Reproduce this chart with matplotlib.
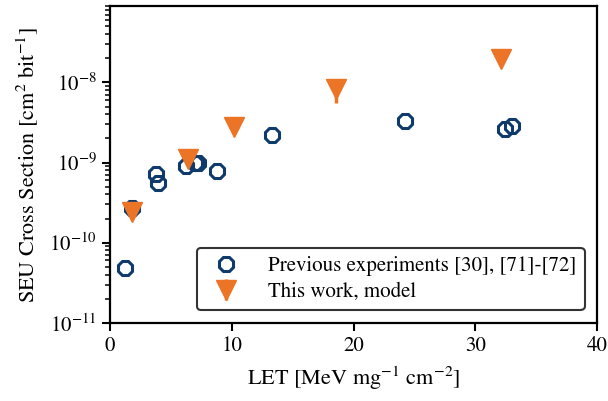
import numpy as np
import matplotlib
matplotlib.use("Agg")
import matplotlib.pyplot as plt
from matplotlib.ticker import NullFormatter

plt.rcParams['font.family'] = 'STIXGeneral'
plt.rcParams['mathtext.fontset'] = 'stix'

# previous experiments (LET, cross section)
prev_let = [1.26, 1.84, 3.76, 3.9, 6.25, 7.0, 7.19, 8.78, 13.33, 24.2, 32.43, 33.0]
prev_xs = [4.8e-11, 2.7e-10, 7.1e-10, 5.5e-10, 9.0e-10, 9.9e-10, 1.0e-9, 7.8e-10,
           2.24e-9, 3.35e-9, 2.64e-9, 2.84e-9]

# model results
model_let = [1.78, 6.39, 10.15, 18.57, 32.1]
model_xs = [2.4e-10, 1.1e-9, 2.8e-9, 8.4e-9, 1.97e-8]
model_err_low = [0.0, 0.0, 0.0, 2.8e-9, 0.0]

y_decades = [1e-11, 1e-10, 1e-9, 1e-8]

blue = '#0f3a6c'
orange = '#ec7426'

fig = plt.figure(figsize=(6.08, 4.01), dpi=100)
ax = fig.add_axes([0.181, 0.195, 0.801, 0.790])

ax.plot(prev_let, prev_xs, linestyle='none', marker='8', markersize=11,
        markerfacecolor='none', markeredgecolor=blue, markeredgewidth=2.2,
        label='Previous experiments [30], [71]-[72]', zorder=3)
ax.errorbar(model_let, model_xs, yerr=[model_err_low, [0.0] * len(model_xs)],
            fmt='v', markersize=14, color=orange, ecolor=orange, elinewidth=2.5,
            capsize=0, label='This work, model', zorder=4)

ax.set_yscale('log')
ax.set_xlim(0, 40)
ax.set_ylim(1e-11, 9e-8)
ax.set_xticks([0, 10, 20, 30, 40])
ax.set_yticks(y_decades)
ax.yaxis.set_minor_formatter(NullFormatter())

ax.set_xlabel(r'LET [MeV mg$^{-1}$ cm$^{-2}$]', fontsize=16, labelpad=6)
ax.set_ylabel(r'SEU Cross Section [cm$^{2}$ bit$^{-1}$]', fontsize=16, labelpad=6)

for side in ax.spines.values():
    side.set_linewidth(1.6)
ax.tick_params(which='major', length=6, width=1.5, labelsize=15)
ax.tick_params(which='minor', length=3.5, width=1.1)

leg = ax.legend(loc='lower right', fontsize=15, fancybox=True, framealpha=1,
                edgecolor='#333333', borderpad=0.4, handletextpad=1.0,
                borderaxespad=0.6, labelspacing=0.3)
leg.get_frame().set_linewidth(1.5)

fig.savefig('out.png', dpi=100)
